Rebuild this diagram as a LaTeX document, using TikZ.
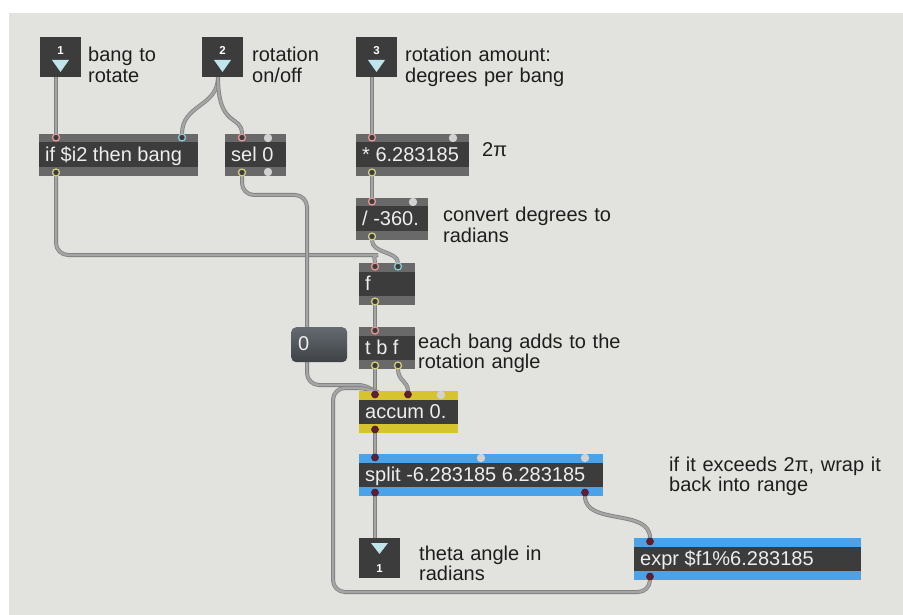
\documentclass[tikz,border=0pt]{standalone}
\usepackage{fontspec}
\setmainfont{Liberation Sans}
\usetikzlibrary{calc}
\definecolor{bgc}{RGB}{226,226,222}
\definecolor{body}{RGB}{60,60,60}
\definecolor{gband}{RGB}{105,105,105}
\definecolor{yband}{RGB}{214,196,46}
\definecolor{bband}{RGB}{74,163,232}
\definecolor{wfill}{RGB}{165,165,165}
\definecolor{wedge}{RGB}{128,128,128}
\definecolor{pinkp}{RGB}{232,150,150}
\definecolor{bluep}{RGB}{140,200,215}
\definecolor{yelp}{RGB}{210,205,125}
\definecolor{darkport}{RGB}{95,30,50}
\definecolor{greyport}{RGB}{210,210,210}
\definecolor{tri}{RGB}{192,228,236}
\definecolor{ctxt}{RGB}{30,30,30}
\definecolor{otxt}{RGB}{238,238,238}
\definecolor{msgtop}{RGB}{100,106,112}
\definecolor{msgbot}{RGB}{62,66,70}
\pgfdeclarelayer{back}
\pgfdeclarelayer{wires}
\pgfsetlayers{back,wires,main}
\tikzset{
  box/.style={draw=none, fill=body, inner sep=0pt, minimum height=42pt, anchor=north west},
  iobox/.style={draw=none, fill=body, inner sep=0pt, minimum width=41pt, minimum height=40pt, anchor=north west},
  otext/.style={text=otxt, font=\fontsize{20}{20}\selectfont, inner sep=0pt, anchor=base west},
  ctext/.style={text=ctxt, font=\fontsize{20}{20.5}\selectfont, inner sep=0pt, anchor=base west, align=left, text width=260pt},
  numtext/.style={text=white, font=\bfseries\fontsize{11.5}{11.5}\selectfont, inner sep=0pt, anchor=base},
  wire/.style={line width=0.8pt, draw=wedge, double=wfill, double distance=2.4pt, rounded corners=12pt},
  hotp/.style={draw=pinkp, line width=1.3pt, fill=body},
  coldp/.style={draw=bluep, line width=1.3pt, fill=body},
  outp/.style={draw=yelp, line width=1.3pt, fill=body},
  darkp/.style={draw=darkport!80!black, line width=0.6pt, fill=darkport},
  greyp/.style={fill=greyport, draw=none},
}
% object box: name, x, ytop, width, band colour, text
\newcommand\mobj[6]{%
  \node[box, minimum width=#4pt] (#1) at (#2,#3) {};
  \fill[#5] (#1.north west) rectangle ([yshift=-8.5pt]#1.north east);
  \fill[#5] (#1.south west) rectangle ([yshift=9pt]#1.south east);
  \node[otext] (#1-t) at ([xshift=6pt,yshift=-27.5pt]#1.north west) {#6};
}
% inlet port: name, x, ytop, style
\newcommand\pin[4]{\coordinate (#1) at (#2,#3); \draw[#4] (#2,#3+3.5) circle (3.5pt);}
% outlet port: name, x, ybottom, style
\newcommand\pout[4]{\coordinate (#1) at (#2,#3); \draw[#4] (#2,#3-3.5) circle (3.5pt);}
% unconnected port
\newcommand\pgin[2]{\fill[greyp] (#1,#2+4) circle (4.2pt);}
\newcommand\pgout[2]{\fill[greyp] (#1,#2-4) circle (4.2pt);}
% patcher inlet: name, x, ytop, number
\newcommand\inobj[4]{%
  \node[iobox] (#1) at (#2,#3) {};
  \node[numtext] (#1-n) at (#2+20.5,#3+18) {#4};
  \fill[tri] (#2+12,#3+23) -- (#2+29,#3+23) -- (#2+20.5,#3+35) -- cycle;
  \coordinate (#1-o) at (#2+16,#3+40);
}
\begin{document}
\begin{tikzpicture}[x=1pt,y=-1pt]
\useasboundingbox (0,0) rectangle (903,615);
\begin{pgfonlayer}{back}
  \fill[white] (0,0) rectangle (903,615);
  \fill[bgc] (9,13) rectangle (903,615);
\end{pgfonlayer}

% patcher inlets
\inobj{in1}{40}{37}{1}
\inobj{in2}{202}{37}{2}
\inobj{in3}{356}{37}{3}

% comments
\node[ctext] (c1) at (88,62) {bang to\\rotate};
\node[ctext] (c2) at (252,62) {rotation\\on/off};
\node[ctext] (c3) at (405,62) {rotation amount:\\degrees per bang};
\node[ctext] (c4) at (482,157) {2π};
\node[ctext] (c5) at (443,222) {convert degrees to\\radians};
\node[ctext] (c6) at (418,348) {each bang adds to the\\rotation angle};
\node[ctext] (c7) at (669,471) {if it exceeds 2π, wrap it\\back into range};
\node[ctext] (c8) at (419,560) {theta angle in\\radians};

% objects
\mobj{if}{39}{134}{159}{gband}{if \$i2 then bang}
\pin{if-i1}{56}{134}{hotp}
\pin{if-i2}{182}{134}{coldp}
\pout{if-o1}{56}{176}{outp}

\mobj{sel}{225}{134}{61}{gband}{sel 0}
\pin{sel-i1}{242}{134}{hotp}
\pgin{268}{134}
\pout{sel-o1}{242}{176}{outp}
\pgout{268}{176}

\mobj{mul}{356}{134}{113}{gband}{* 6.283185}
\pin{mul-i1}{372}{134}{hotp}
\pgin{453}{134}
\pout{mul-o1}{372}{176}{outp}

\mobj{div}{356}{198}{72}{gband}{/ -360.}
\pin{div-i1}{372}{198}{hotp}
\pgin{413}{198}
\pout{div-o1}{372}{240}{outp}

\mobj{f}{359}{263}{56}{gband}{f}
\pin{f-i1}{375}{263}{hotp}
\pin{f-i2}{398}{263}{coldp}
\pout{f-o1}{375}{305}{outp}

\mobj{tbf}{359}{327}{56}{gband}{t b f}
\pin{tbf-i1}{375}{327}{hotp}
\pout{tbf-o1}{375}{369}{outp}
\pout{tbf-o2}{398}{369}{outp}

% message box
\node[draw=none, rounded corners=5pt, top color=msgtop, bottom color=msgbot,
      minimum width=56pt, minimum height=35pt, inner sep=0pt, anchor=north west] (msg0) at (291,327) {};
\node[otext] (msg0-t) at (298,350) {0};

\mobj{acc}{359}{391}{99}{yband}{accum 0.}
\pin{acc-i1}{375}{391}{darkp}
\pin{acc-i2}{408}{391}{darkp}
\pgin{441}{391}
\pout{acc-o1}{375}{433}{darkp}

\mobj{split}{359}{454}{244}{bband}{split -6.283185 6.283185}
\pin{split-i1}{375}{454}{darkp}
\pgin{481}{454}
\pgin{585}{454}
\pout{split-o1}{375}{496}{darkp}
\pout{split-o2}{585}{496}{darkp}

\mobj{expr}{634}{538}{227}{bband}{expr \$f1\%6.283185}
\pin{expr-i1}{650}{538}{darkp}
\pout{expr-o1}{650}{580}{darkp}

% patcher outlet
\node[iobox] (out1) at (359,538) {};
\fill[tri] (371,543) -- (388,543) -- (379.5,554) -- cycle;
\node[numtext] (out1-n) at (379.5,572) {1};
\coordinate (out1-i) at (375,538);

% connections
\begin{pgfonlayer}{wires}
\draw[wire] (in1-o) -- (if-i1);
\draw[wire] (in2-o) .. controls +(0,30) and +(0,-30) .. (if-i2);
\draw[wire] (in2-o) .. controls +(0,52) and +(0,-20) .. (sel-i1);
\draw[wire] (in3-o) -- (mul-i1);
\draw[wire] (if-o1) |- (366,255) .. controls (372,255) and (375,258) .. (f-i1);
\draw[wire] (sel-o1) -- (242,195) -- (307,195) -- (307,385) -- (370,385) -- (acc-i1);
\draw[wire] (mul-o1) -- (div-i1);
\draw[wire] (div-o1) .. controls +(0,14) and +(0,-12) .. (f-i2);
\draw[wire] (f-o1) -- (tbf-i1);
\draw[wire] (tbf-o1) -- (acc-i1);
\draw[wire] (tbf-o2) .. controls +(0,12) and +(0,-10) .. (acc-i2);
\draw[wire] (acc-o1) -- (split-i1);
\draw[wire] (split-o1) -- (out1-i);
\draw[wire] (split-o2) .. controls +(0,30) and +(0,-30) .. (expr-i1);
\draw[wire] (expr-o1) -- (650,592) -- (333,592) -- (333,388) -- (368,388) -- (acc-i1);
\end{pgfonlayer}
\end{tikzpicture}
\end{document}
